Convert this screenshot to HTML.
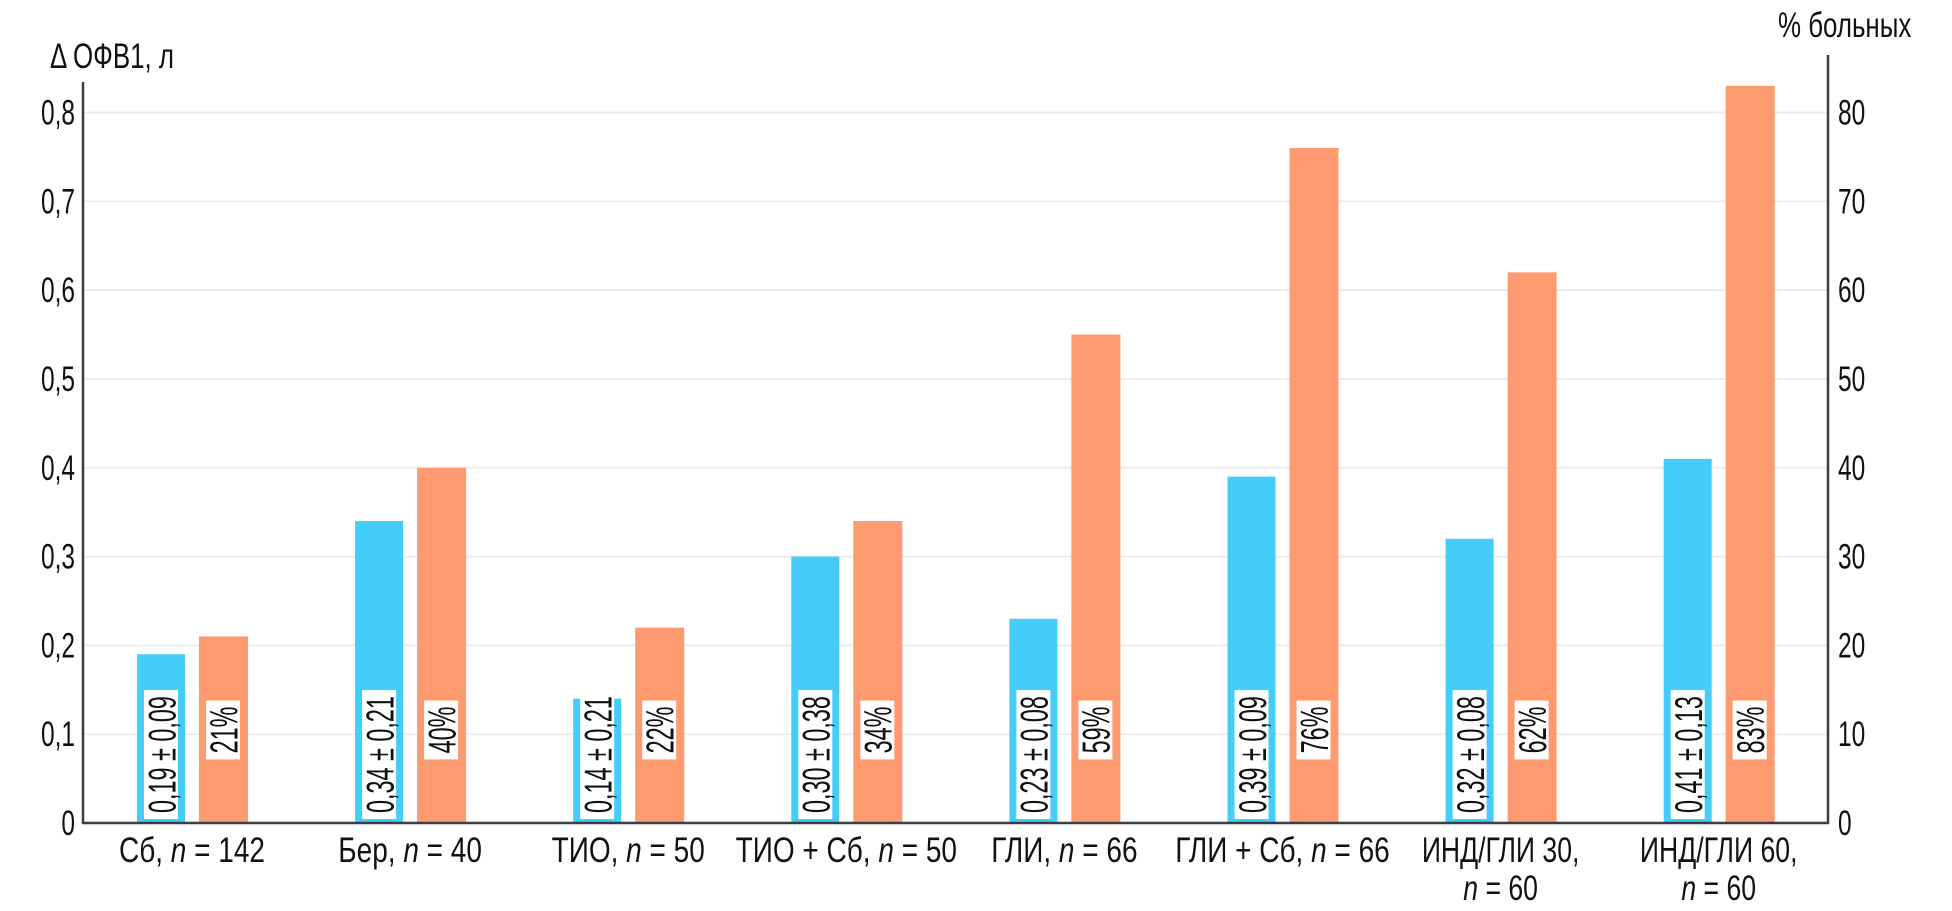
<!DOCTYPE html>
<html><head><meta charset="utf-8">
<style>
html,body{margin:0;padding:0;background:#fff;}
svg{display:block;font-family:"Liberation Sans","DejaVu Sans",sans-serif;}
</style></head>
<body>
<svg id="chart" width="1952" height="911" viewBox="0 0 1952 911" xmlns="http://www.w3.org/2000/svg">
  <g id="grid"></g>
  <g id="bars"></g>
  <g id="axes">
    <line x1="83" y1="82" x2="83" y2="824" stroke="#3a3f44" stroke-width="2.5"/>
    <line x1="1828" y1="55" x2="1828" y2="824" stroke="#3a3f44" stroke-width="2.5"/>
    <line x1="82" y1="823" x2="1829" y2="823" stroke="#3a3f44" stroke-width="2.5"/>
  </g>
  <g id="ticks"></g>
  <g id="xlabels"></g>
  <text transform="translate(50,68) scale(0.74,1)" font-size="35" fill="#111">Δ ОФВ1, л</text>
  <text transform="translate(1778,37) scale(0.74,1)" font-size="35" fill="#111">% больных</text>
</svg>
<script>
const categories = [["Сб, ", "n", " = 142"], ["Бер, ", "n", " = 40"], ["ТИО, ", "n", " = 50"], ["ТИО + Сб, ", "n", " = 50"], ["ГЛИ, ", "n", " = 66"], ["ГЛИ + Сб, ", "n", " = 66"], ["ИНД/ГЛИ 30,", "n", " = 60"], ["ИНД/ГЛИ 60,", "n", " = 60"]];
const fevValues = [0.19, 0.34, 0.14, 0.30, 0.23, 0.39, 0.32, 0.41];
const fevLabels = ["0,19 ± 0,09", "0,34 ± 0,21", "0,14 ± 0,21", "0,30 ± 0,38", "0,23 ± 0,08", "0,39 ± 0,09", "0,32 ± 0,08", "0,41 ± 0,13"];
const pctValues = [21, 40, 22, 34, 55, 76, 62, 83];
const pctLabels = ["21%", "40%", "22%", "34%", "59%", "76%", "62%", "83%"];
const leftTicks = [0, 0.1, 0.2, 0.3, 0.4, 0.5, 0.6, 0.7, 0.8];
const leftTickLabels = ["0", "0,1", "0,2", "0,3", "0,4", "0,5", "0,6", "0,7", "0,8"];
const rightTicks = [0, 10, 20, 30, 40, 50, 60, 70, 80];

const NS = "http://www.w3.org/2000/svg";
const baseY = 823, topY = 112.5;
function yL(v){ return baseY - v/0.8*(baseY-topY); }
function yR(v){ return baseY - v/80*(baseY-topY); }
function xGroup(i){ return 137 + i*218.1; }
const BW = 48, OFF = 62;
function mk(tag, attrs, parent){ const e=document.createElementNS(NS,tag); for(const k in attrs) e.setAttribute(k,attrs[k]); parent.appendChild(e); return e; }

const grid=document.getElementById('grid'), bars=document.getElementById('bars'), ticks=document.getElementById('ticks'), xl=document.getElementById('xlabels');

leftTicks.forEach((t,i)=>{
  if(t>0){
    const g=mk('line',{x1:84,x2:1827,y1:yL(t),y2:yL(t),stroke:'#ececec','stroke-width':2},grid);
    
    
  }
  const tx=mk('text',{transform:`translate(75,${yL(t)+12}) scale(0.7,1)`,'text-anchor':'end','font-size':35,fill:'#111'},ticks);
  tx.textContent=leftTickLabels[i];
  
  
});
rightTicks.forEach(t=>{
  const tx=mk('text',{transform:`translate(1838,${yR(t)+12}) scale(0.7,1)`,'font-size':35,fill:'#111'},ticks);
  tx.textContent=String(t);
  
  
});

function boxLabel(cx, text, bottom, centerY){
  const t=mk('text',{'font-size':39,fill:'#111','text-anchor':'middle','dominant-baseline':'central'},bars);
  t.textContent=text;
  let L=t.getComputedTextLength()*0.6;
  const h=L+12;
  const cy = bottom!==null ? bottom-h/2 : centerY;
  const r=document.createElementNS(NS,'rect');
  r.setAttribute('x',cx-17); r.setAttribute('y',cy-h/2); r.setAttribute('width',34); r.setAttribute('height',h); r.setAttribute('fill','#fff');
  bars.insertBefore(r,t);
  
  
  t.setAttribute('transform',`translate(${cx+1},${cy}) rotate(-90) scale(0.6,1)`);
  
  
}

categories.forEach((c,i)=>{
  const x=xGroup(i);
  const b=mk('rect',{x:x,y:yL(fevValues[i]),width:BW,height:baseY-yL(fevValues[i]),fill:'#45cdf9'},bars);
  
  
  const o=mk('rect',{x:x+OFF,y:yR(pctValues[i]),width:BW+1,height:baseY-yR(pctValues[i]),fill:'#fe9a6f'},bars);
  
  
  boxLabel(x+BW/2, fevLabels[i], 819, null);
  boxLabel(x+OFF+BW/2, pctLabels[i], null, 730);
  const cx=x+55;
  const twoLine = c[0].endsWith(',') && c[0].indexOf('/')>=0;
  const t=mk('text',{'font-size':35,fill:'#111','text-anchor':'middle'},xl);
  
  
  if(!twoLine){
    t.setAttribute('transform',`translate(${cx},862) scale(0.8,1)`);
    const s1=mk('tspan',{},t); s1.textContent=c[0];
    const s2=mk('tspan',{'font-style':'italic'},t); s2.textContent=c[1];
    const s3=mk('tspan',{},t); s3.textContent=c[2];
  } else {
    t.setAttribute('transform',`translate(${cx},862) scale(0.76,1)`);
    const s1=mk('tspan',{x:0,y:0},t); s1.textContent=c[0];
    const s2=mk('tspan',{x:0,dy:38,'font-style':'italic'},t); s2.textContent=c[1];
    const s3=mk('tspan',{},t); s3.textContent=c[2];
  }
});
</script>
</body></html>
